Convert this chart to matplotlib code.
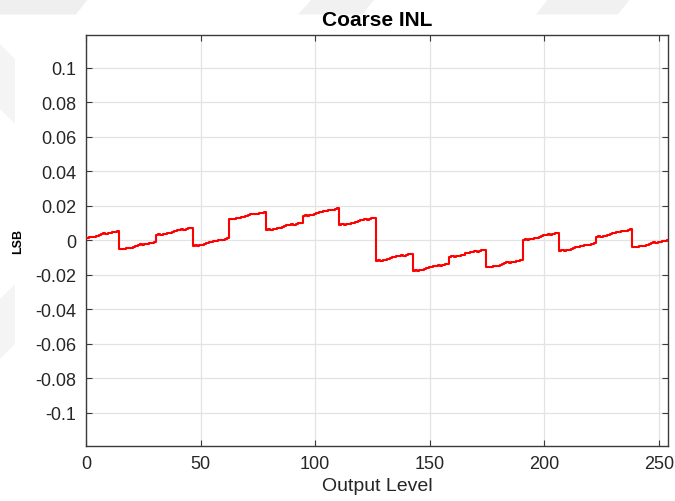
import numpy as np
import matplotlib
matplotlib.use("Agg")
import matplotlib.pyplot as plt
from matplotlib.patches import Polygon

# Coarse-segment level (LSB) at the first code of each 16-code segment
segment_start = [0.0012, -0.0052, 0.0031, -0.0031, 0.0123, 0.0060, 0.0143, 0.0089,
                 -0.0119, -0.0177, -0.0096, -0.0156, 0.0002, -0.0060, 0.0021, -0.0040]
# Fine-DAC contribution (LSB) at each position inside a segment
fine_offset = [0.0000, 0.0003, 0.0001, 0.0005, 0.0006, 0.0010, 0.0014, 0.0020,
               0.0024, 0.0028, 0.0027, 0.0032, 0.0031, 0.0035, 0.0038, 0.0042]

x_ticks = [0, 50, 100, 150, 200, 250]
y_ticks = [-0.1, -0.08, -0.06, -0.04, -0.02, 0, 0.02, 0.04, 0.06, 0.08, 0.1]
y_tick_labels = ["-0.1", "-0.08", "-0.06", "-0.04", "-0.02", "0",
                 "0.02", "0.04", "0.06", "0.08", "0.1"]

codes = np.arange(1, 256)
output_level = codes - 1
inl = np.array([segment_start[c // 16] + fine_offset[c % 16] for c in codes])

plt.rcParams["font.family"] = ["Liberation Sans", "DejaVu Sans"]
plt.rcParams["axes.unicode_minus"] = False

W, H = 675, 502
fig = plt.figure(figsize=(W / 100, H / 100), dpi=100)
fig.patch.set_facecolor("white")


def px(points):
    return [(x / W, 1 - y / H) for x, y in points]


# faint page watermark in the outer margins
for pts, col in [
    ([(0, 0), (88, 0), (76, 15.5), (0, 15.5)], "#efefef"),
    ([(312, 0), (375, 0), (362, 15.5), (298, 15.5)], "#f1f1f1"),
    ([(548, 0), (630, 0), (618, 15.5), (536, 15.5)], "#f1f1f1"),
    ([(0, 45), (15, 60), (15, 125), (0, 110)], "#f4f4f4"),
    ([(0, 300), (15, 285), (15, 345), (0, 360)], "#f4f4f4"),
]:
    fig.add_artist(Polygon(px(pts), closed=True, facecolor=col, edgecolor="none",
                           transform=fig.transFigure, zorder=0))

left, right, top, bottom = 86, 668, 36, 446.7
ax = fig.add_axes([left / W, 1 - bottom / H, (right - left) / W, (bottom - top) / H])

ax.plot(output_level, inl, color="#ff0000", linewidth=1.5,
        drawstyle="steps-mid", zorder=3)

ax.set_xlim(0, 254)
ax.set_ylim(-0.119, 0.119)
ax.set_xticks(x_ticks)
ax.set_yticks(y_ticks)
ax.set_yticklabels(y_tick_labels)

ax.grid(True, color="#e3e3e3", linewidth=0.9)
ax.set_axisbelow(True)

for side in ax.spines.values():
    side.set_color("#3a3a3a")
    side.set_linewidth(1.0)

ax.tick_params(direction="in", length=4, width=0.8, color="#3a3a3a",
               top=True, right=True, labelsize=13, labelcolor="#262626", pad=7)

ax.set_title("Coarse INL", fontsize=15, fontweight="bold", color="black", pad=7)
ax.set_xlabel("Output Level", fontsize=14, color="#262626", labelpad=3)
ax.set_ylabel("LSB", fontsize=9, fontweight="bold", color="black", labelpad=8)

fig.savefig("out.png", dpi=100, facecolor=fig.get_facecolor())
